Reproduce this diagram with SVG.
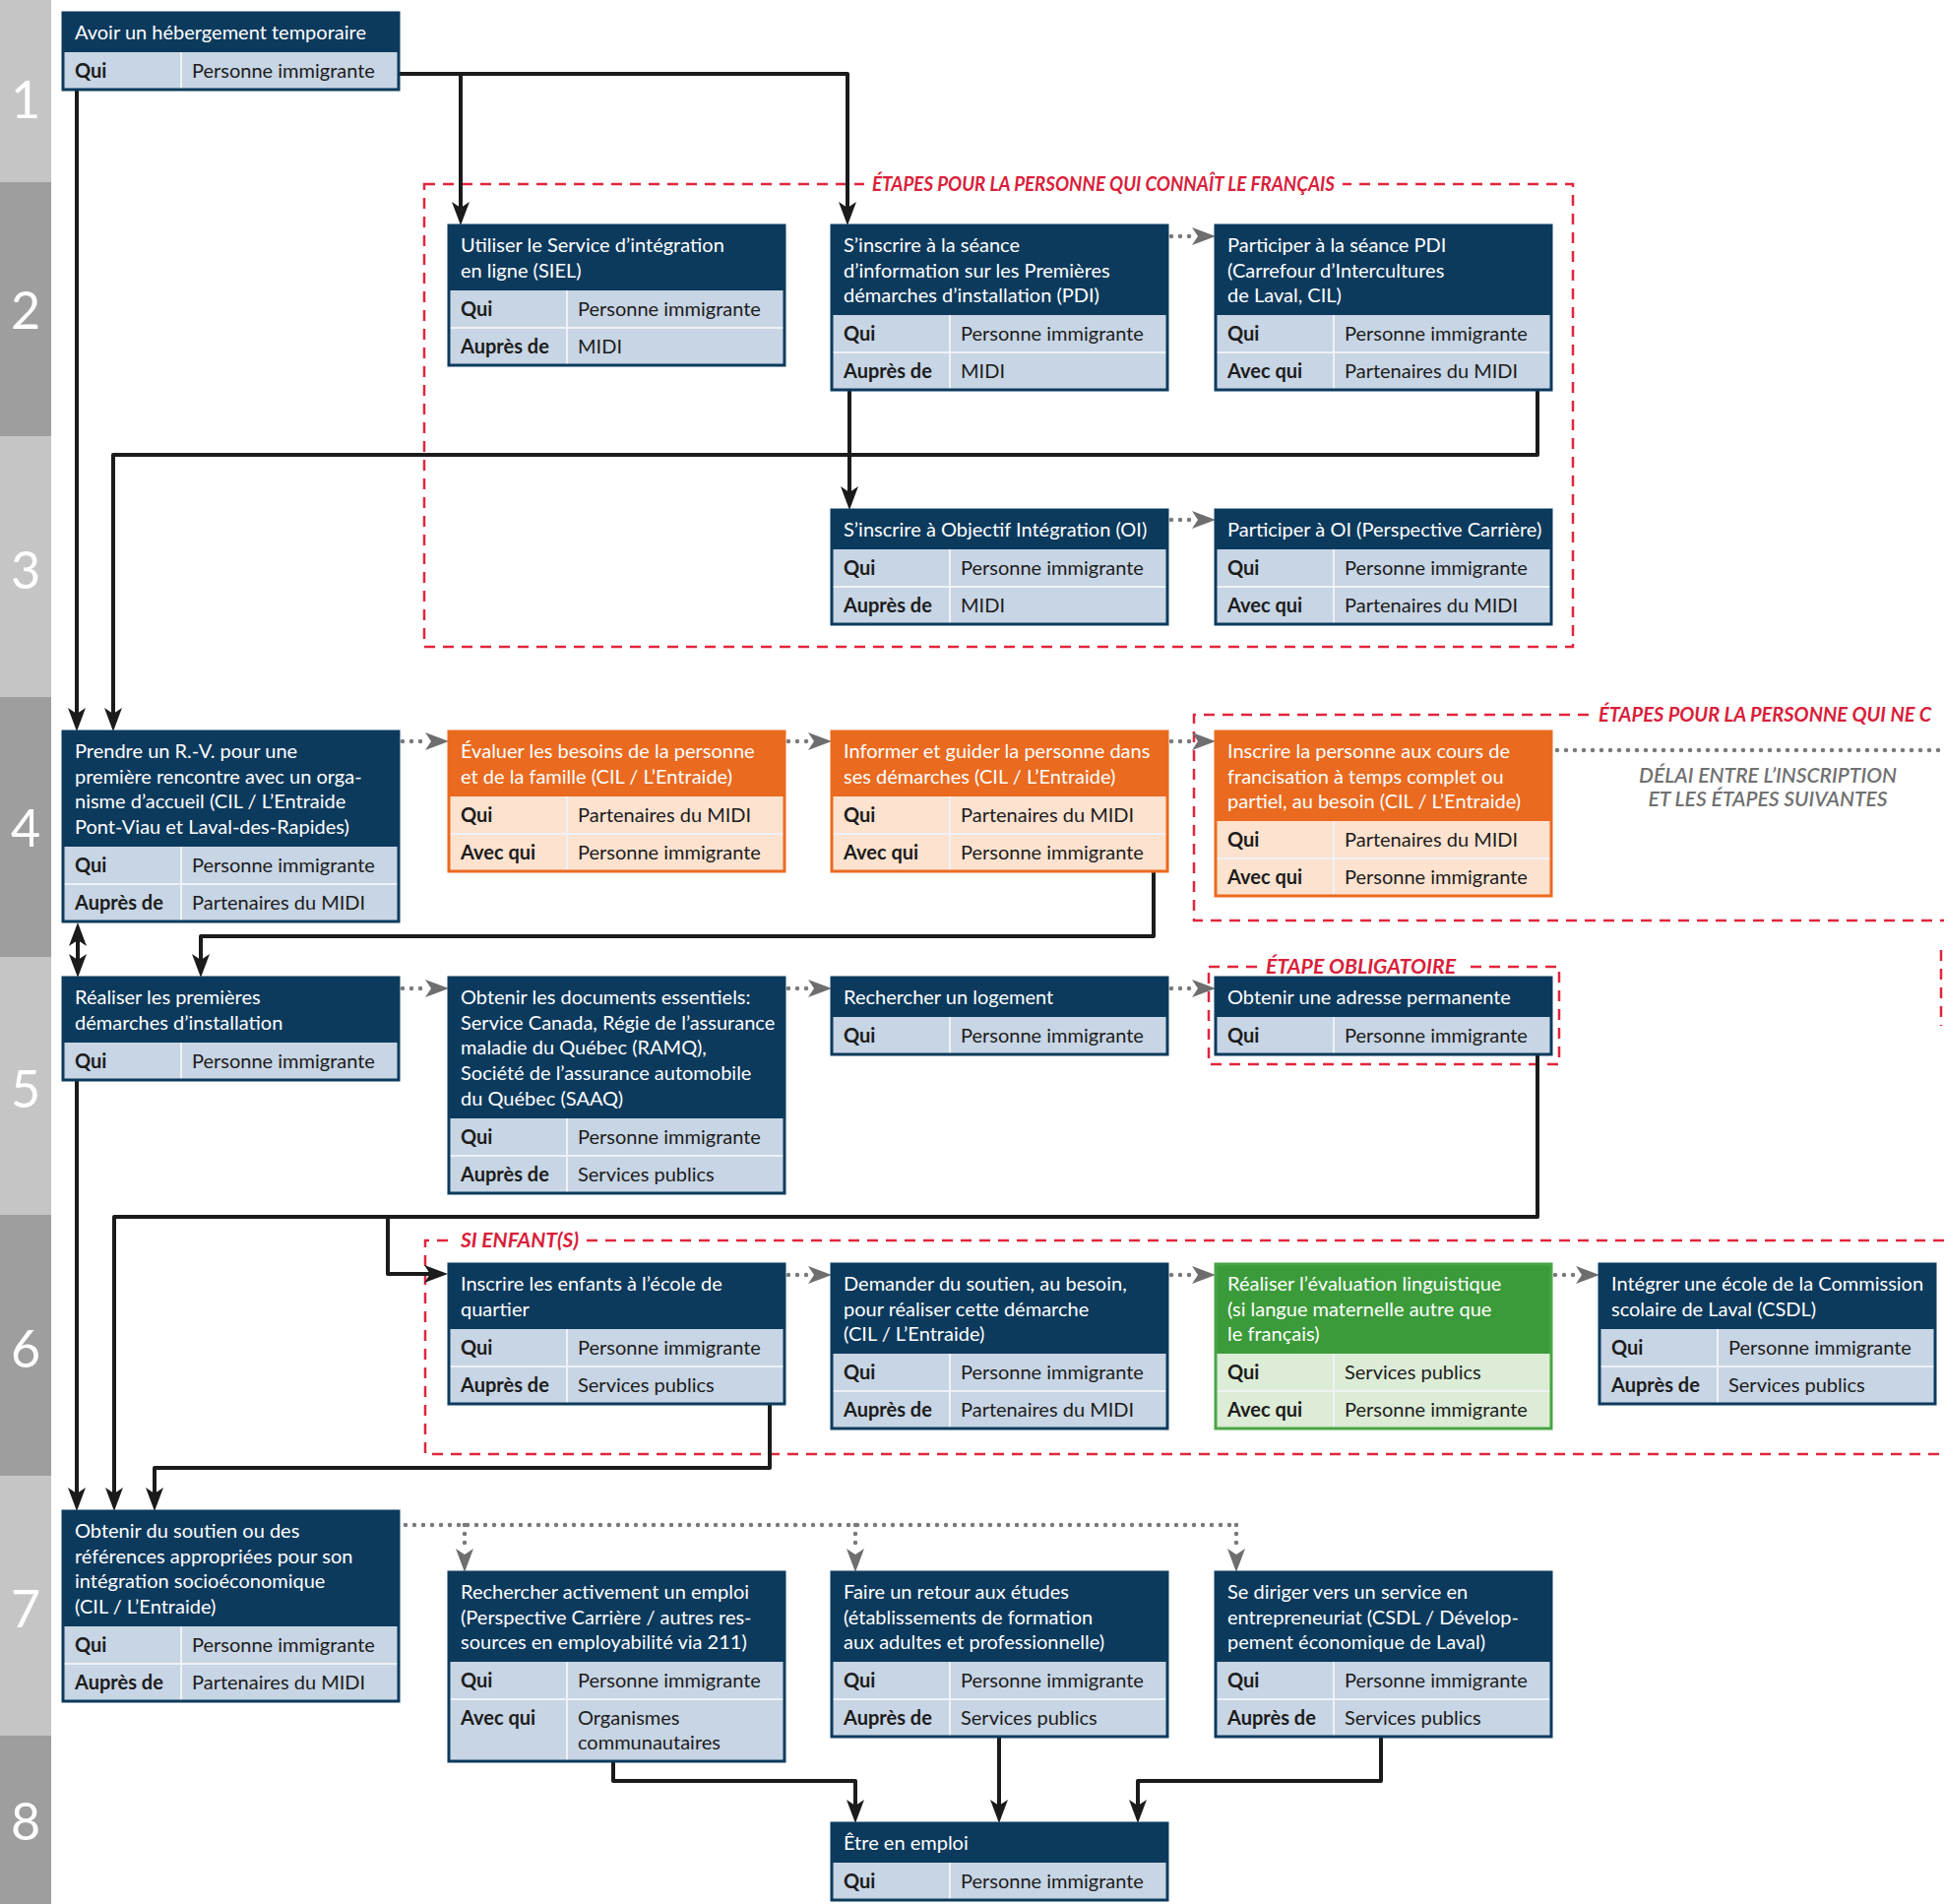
<svg xmlns="http://www.w3.org/2000/svg" width="1975" height="1934" viewBox="0 0 1975 1934">
<style>
text{font-family:Lato,"Liberation Sans",sans-serif;font-size:20px}
.band-l{fill:#c5c5c5}.band-d{fill:#9e9e9e}
.num{font-size:52px;fill:#fff;text-anchor:middle}
.bd{fill:#c7d5e4}.hd{fill:#0c3a5d}.ol{fill:none;stroke:#0c3a5d;stroke-width:3}
.sep{stroke:#eef2f6;stroke-width:2;fill:none}
.o .bd{fill:#fde2cf}.o .hd{fill:#ea6a1f}.o .ol{stroke:#ea6a1f}
.g .bd{fill:#dcecd6}.g .hd{fill:#3b9b3a}.g .ol{stroke:#49a545}
.h{fill:#fff}.k{fill:#1c1c1c;font-weight:bold}.v{fill:#1c1c1c}
.red{fill:none;stroke:#e1263c;stroke-width:2.5;stroke-dasharray:11 8}
.rl{fill:#d9203a;font-weight:bold;font-style:italic}
.blk{fill:none;stroke:#1b1b1b;stroke-width:4;stroke-linejoin:round}
.dot{fill:none;stroke:#7a7a7a;stroke-width:4.5;stroke-linecap:round;stroke-dasharray:0 9}
.note{fill:#707070;font-style:italic;font-weight:600;font-size:21px;text-anchor:middle}
</style>
<defs>
<marker id="ah" viewBox="0 0 24 20" markerWidth="24" markerHeight="20" markerUnits="userSpaceOnUse" refX="14" refY="10" orient="auto-start-reverse"><path d="M0,1 L24,10 L0,19 L6,10 Z" fill="#1b1b1b"/></marker>
<marker id="ag" viewBox="0 0 24 18" markerWidth="24" markerHeight="18" markerUnits="userSpaceOnUse" refX="0" refY="9" orient="auto"><path d="M0,0 L24,9 L0,18 L6,9 Z" fill="#6e6e6e"/></marker>
</defs>
<rect width="1975" height="1934" fill="#fff"/>
<g id="bands">
<rect class="band-l" x="0" y="0" width="52" height="185"/>
<rect class="band-d" x="0" y="185" width="52" height="258"/>
<rect class="band-l" x="0" y="443" width="52" height="265"/>
<rect class="band-d" x="0" y="708" width="52" height="264"/>
<rect class="band-l" x="0" y="972" width="52" height="262"/>
<rect class="band-d" x="0" y="1234" width="52" height="265"/>
<rect class="band-l" x="0" y="1499" width="52" height="264"/>
<rect class="band-d" x="0" y="1763" width="52" height="171"/>
<text class="num" x="26" y="120">1</text>
<text class="num" x="26" y="334">2</text>
<text class="num" x="26" y="598">3</text>
<text class="num" x="26" y="860">4</text>
<text class="num" x="26" y="1125">5</text>
<text class="num" x="26" y="1389">6</text>
<text class="num" x="26" y="1653">7</text>
<text class="num" x="26" y="1869">8</text>
</g>
<g id="groups">
<rect class="red" x="431" y="187" width="1167" height="470"/>
<rect x="878" y="176" width="486" height="22" fill="#fff"/>
<text class="rl" x="886" y="194" font-size="18" textLength="470" lengthAdjust="spacingAndGlyphs">ÉTAPES POUR LA PERSONNE QUI CONNAÎT LE FRANÇAIS</text>
<path class="red" d="M1975,726 H1213 V935 H1975"/>
<rect x="1614" y="714" width="361" height="24" fill="#fff"/>
<text class="rl" x="1624" y="733" font-size="19">ÉTAPES POUR LA PERSONNE QUI NE C</text>
<text class="note" x="1796" y="795">DÉLAI ENTRE L’INSCRIPTION</text>
<text class="note" x="1796" y="819">ET LES ÉTAPES SUIVANTES</text>
<path class="red" d="M1972,965 V1042"/>
<rect class="red" x="1228" y="982" width="356" height="99"/>
<rect x="1278" y="970" width="209" height="24" fill="#fff"/>
<text class="rl" x="1286" y="989" textLength="193" lengthAdjust="spacingAndGlyphs">ÉTAPE OBLIGATOIRE</text>
<path class="red" d="M1975,1260 H432 V1477 H1975"/>
<rect x="460" y="1248" width="136" height="24" fill="#fff"/>
<text class="rl" x="468" y="1267" textLength="120" lengthAdjust="spacingAndGlyphs">SI ENFANT(S)</text>
</g>
<g id="connectors">
<path class="blk" marker-end="url(#ah)" d="M405,75 H861 V219"/>
<path class="blk" marker-end="url(#ah)" d="M468,75 V219"/>
<path class="blk" marker-end="url(#ah)" d="M78,91 V733"/>
<path class="blk" marker-end="url(#ah)" d="M1562,396 V462 H115 V733"/>
<path class="blk" marker-end="url(#ah)" d="M863,396 V508"/>
<path class="blk" marker-end="url(#ah)" d="M1172,885 V951 H204 V983"/>
<path class="blk" marker-start="url(#ah)" marker-end="url(#ah)" d="M79,947 V983"/>
<path class="blk" marker-end="url(#ah)" d="M78,1097 V1525"/>
<path class="blk" marker-end="url(#ah)" d="M1562,1071 V1236 H116 V1525"/>
<path class="blk" marker-end="url(#ah)" d="M394,1236 V1294 H445"/>
<path class="blk" marker-end="url(#ah)" d="M782,1426 V1491 H157 V1525"/>
<path class="blk" marker-end="url(#ah)" d="M623,1789 V1809 H869 V1842"/>
<path class="blk" marker-end="url(#ah)" d="M1015,1764 V1842"/>
<path class="blk" marker-end="url(#ah)" d="M1403,1764 V1809 H1156 V1842"/>
<path class="dot" marker-end="url(#ag)" d="M1190,240 H1211"/>
<path class="dot" marker-end="url(#ag)" d="M1190,528 H1211"/>
<path class="dot" marker-end="url(#ag)" d="M409,753 H432"/>
<path class="dot" marker-end="url(#ag)" d="M801,753 H821"/>
<path class="dot" marker-end="url(#ag)" d="M1190,753 H1211"/>
<path class="dot" marker-end="url(#ag)" d="M409,1004 H432"/>
<path class="dot" marker-end="url(#ag)" d="M801,1004 H821"/>
<path class="dot" marker-end="url(#ag)" d="M1190,1004 H1211"/>
<path class="dot" marker-end="url(#ag)" d="M801,1295 H821"/>
<path class="dot" marker-end="url(#ag)" d="M1190,1295 H1211"/>
<path class="dot" marker-end="url(#ag)" d="M1580,1295 H1601"/>
<path class="dot" d="M1582,762 H1975"/>
<path class="dot" d="M412,1549 H1256"/>
<path class="dot" marker-end="url(#ag)" d="M472,1549 V1573"/>
<path class="dot" marker-end="url(#ag)" d="M869,1549 V1573"/>
<path class="dot" marker-end="url(#ag)" d="M1256,1549 V1573"/>
</g>
<g id="n-a"><rect class="bd" x="64" y="13" width="341" height="78"/><rect class="hd" x="64" y="13" width="341" height="40"/><path class="sep" d="M184,53 V91"/><rect class="ol" x="64" y="13" width="341" height="78"/>
<text class="h" x="76" y="40">Avoir un hébergement temporaire</text>
<text class="k" x="76" y="79">Qui</text><text class="v" x="195" y="79">Personne immigrante</text></g>

<g id="n-b"><rect class="bd" x="456" y="229" width="341" height="142"/><rect class="hd" x="456" y="229" width="341" height="66"/><path class="sep" d="M456,333 H797 M576,295 V371"/><rect class="ol" x="456" y="229" width="341" height="142"/>
<text class="h" x="468" y="256">Utiliser le Service d’intégration</text><text class="h" x="468" y="282">en ligne (SIEL)</text>
<text class="k" x="468" y="321">Qui</text><text class="v" x="587" y="321">Personne immigrante</text>
<text class="k" x="468" y="359">Auprès de</text><text class="v" x="587" y="359">MIDI</text></g>

<g id="n-c"><rect class="bd" x="845" y="229" width="341" height="167"/><rect class="hd" x="845" y="229" width="341" height="91"/><path class="sep" d="M845,358 H1186 M965,320 V396"/><rect class="ol" x="845" y="229" width="341" height="167"/>
<text class="h" x="857" y="256">S’inscrire à la séance</text><text class="h" x="857" y="282">d’information sur les Premières</text><text class="h" x="857" y="307">démarches d’installation (PDI)</text>
<text class="k" x="857" y="346">Qui</text><text class="v" x="976" y="346">Personne immigrante</text>
<text class="k" x="857" y="384">Auprès de</text><text class="v" x="976" y="384">MIDI</text></g>

<g id="n-d"><rect class="bd" x="1235" y="229" width="341" height="167"/><rect class="hd" x="1235" y="229" width="341" height="91"/><path class="sep" d="M1235,358 H1576 M1355,320 V396"/><rect class="ol" x="1235" y="229" width="341" height="167"/>
<text class="h" x="1247" y="256">Participer à la séance PDI</text><text class="h" x="1247" y="282">(Carrefour d’Intercultures</text><text class="h" x="1247" y="307">de Laval, CIL)</text>
<text class="k" x="1247" y="346">Qui</text><text class="v" x="1366" y="346">Personne immigrante</text>
<text class="k" x="1247" y="384">Avec qui</text><text class="v" x="1366" y="384">Partenaires du MIDI</text></g>

<g id="n-e"><rect class="bd" x="845" y="518" width="341" height="116"/><rect class="hd" x="845" y="518" width="341" height="40"/><path class="sep" d="M845,596 H1186 M965,558 V634"/><rect class="ol" x="845" y="518" width="341" height="116"/>
<text class="h" x="857" y="545">S’inscrire à Objectif Intégration (OI)</text>
<text class="k" x="857" y="584">Qui</text><text class="v" x="976" y="584">Personne immigrante</text>
<text class="k" x="857" y="622">Auprès de</text><text class="v" x="976" y="622">MIDI</text></g>

<g id="n-f"><rect class="bd" x="1235" y="518" width="341" height="116"/><rect class="hd" x="1235" y="518" width="341" height="40"/><path class="sep" d="M1235,596 H1576 M1355,558 V634"/><rect class="ol" x="1235" y="518" width="341" height="116"/>
<text class="h" x="1247" y="545">Participer à OI (Perspective Carrière)</text>
<text class="k" x="1247" y="584">Qui</text><text class="v" x="1366" y="584">Personne immigrante</text>
<text class="k" x="1247" y="622">Avec qui</text><text class="v" x="1366" y="622">Partenaires du MIDI</text></g>

<g id="n-g"><rect class="bd" x="64" y="743" width="341" height="193"/><rect class="hd" x="64" y="743" width="341" height="117"/><path class="sep" d="M64,898 H405 M184,860 V936"/><rect class="ol" x="64" y="743" width="341" height="193"/>
<text class="h" x="76" y="770">Prendre un R.-V. pour une</text><text class="h" x="76" y="796">première rencontre avec un orga-</text><text class="h" x="76" y="821">nisme d’accueil (CIL / L’Entraide</text><text class="h" x="76" y="847">Pont-Viau et Laval-des-Rapides)</text>
<text class="k" x="76" y="886">Qui</text><text class="v" x="195" y="886">Personne immigrante</text>
<text class="k" x="76" y="924">Auprès de</text><text class="v" x="195" y="924">Partenaires du MIDI</text></g>

<g id="n-h" class="o"><rect class="bd" x="456" y="743" width="341" height="142"/><rect class="hd" x="456" y="743" width="341" height="66"/><path class="sep" d="M456,847 H797 M576,809 V885"/><rect class="ol" x="456" y="743" width="341" height="142"/>
<text class="h" x="468" y="770">Évaluer les besoins de la personne</text><text class="h" x="468" y="796">et de la famille (CIL / L’Entraide)</text>
<text class="k" x="468" y="835">Qui</text><text class="v" x="587" y="835">Partenaires du MIDI</text>
<text class="k" x="468" y="873">Avec qui</text><text class="v" x="587" y="873">Personne immigrante</text></g>

<g id="n-i" class="o"><rect class="bd" x="845" y="743" width="341" height="142"/><rect class="hd" x="845" y="743" width="341" height="66"/><path class="sep" d="M845,847 H1186 M965,809 V885"/><rect class="ol" x="845" y="743" width="341" height="142"/>
<text class="h" x="857" y="770">Informer et guider la personne dans</text><text class="h" x="857" y="796">ses démarches (CIL / L’Entraide)</text>
<text class="k" x="857" y="835">Qui</text><text class="v" x="976" y="835">Partenaires du MIDI</text>
<text class="k" x="857" y="873">Avec qui</text><text class="v" x="976" y="873">Personne immigrante</text></g>

<g id="n-j" class="o"><rect class="bd" x="1235" y="743" width="341" height="167"/><rect class="hd" x="1235" y="743" width="341" height="91"/><path class="sep" d="M1235,872 H1576 M1355,834 V910"/><rect class="ol" x="1235" y="743" width="341" height="167"/>
<text class="h" x="1247" y="770">Inscrire la personne aux cours de</text><text class="h" x="1247" y="796">francisation à temps complet ou</text><text class="h" x="1247" y="821">partiel, au besoin (CIL / L’Entraide)</text>
<text class="k" x="1247" y="860">Qui</text><text class="v" x="1366" y="860">Partenaires du MIDI</text>
<text class="k" x="1247" y="898">Avec qui</text><text class="v" x="1366" y="898">Personne immigrante</text></g>

<g id="n-k"><rect class="bd" x="64" y="993" width="341" height="104"/><rect class="hd" x="64" y="993" width="341" height="66"/><path class="sep" d="M184,1059 V1097"/><rect class="ol" x="64" y="993" width="341" height="104"/>
<text class="h" x="76" y="1020">Réaliser les premières</text><text class="h" x="76" y="1046">démarches d’installation</text>
<text class="k" x="76" y="1085">Qui</text><text class="v" x="195" y="1085">Personne immigrante</text></g>

<g id="n-l"><rect class="bd" x="456" y="993" width="341" height="219"/><rect class="hd" x="456" y="993" width="341" height="143"/><path class="sep" d="M456,1174 H797 M576,1136 V1212"/><rect class="ol" x="456" y="993" width="341" height="219"/>
<text class="h" x="468" y="1020">Obtenir les documents essentiels:</text><text class="h" x="468" y="1046">Service Canada, Régie de l’assurance</text><text class="h" x="468" y="1071">maladie du Québec (RAMQ),</text><text class="h" x="468" y="1097">Société de l’assurance automobile</text><text class="h" x="468" y="1123">du Québec (SAAQ)</text>
<text class="k" x="468" y="1162">Qui</text><text class="v" x="587" y="1162">Personne immigrante</text>
<text class="k" x="468" y="1200">Auprès de</text><text class="v" x="587" y="1200">Services publics</text></g>

<g id="n-m"><rect class="bd" x="845" y="993" width="341" height="78"/><rect class="hd" x="845" y="993" width="341" height="40"/><path class="sep" d="M965,1033 V1071"/><rect class="ol" x="845" y="993" width="341" height="78"/>
<text class="h" x="857" y="1020">Rechercher un logement</text>
<text class="k" x="857" y="1059">Qui</text><text class="v" x="976" y="1059">Personne immigrante</text></g>

<g id="n-n"><rect class="bd" x="1235" y="993" width="341" height="78"/><rect class="hd" x="1235" y="993" width="341" height="40"/><path class="sep" d="M1355,1033 V1071"/><rect class="ol" x="1235" y="993" width="341" height="78"/>
<text class="h" x="1247" y="1020">Obtenir une adresse permanente</text>
<text class="k" x="1247" y="1059">Qui</text><text class="v" x="1366" y="1059">Personne immigrante</text></g>

<g id="n-o"><rect class="bd" x="456" y="1284" width="341" height="142"/><rect class="hd" x="456" y="1284" width="341" height="66"/><path class="sep" d="M456,1388 H797 M576,1350 V1426"/><rect class="ol" x="456" y="1284" width="341" height="142"/>
<text class="h" x="468" y="1311">Inscrire les enfants à l’école de</text><text class="h" x="468" y="1337">quartier</text>
<text class="k" x="468" y="1376">Qui</text><text class="v" x="587" y="1376">Personne immigrante</text>
<text class="k" x="468" y="1414">Auprès de</text><text class="v" x="587" y="1414">Services publics</text></g>

<g id="n-p"><rect class="bd" x="845" y="1284" width="341" height="167"/><rect class="hd" x="845" y="1284" width="341" height="91"/><path class="sep" d="M845,1413 H1186 M965,1375 V1451"/><rect class="ol" x="845" y="1284" width="341" height="167"/>
<text class="h" x="857" y="1311">Demander du soutien, au besoin,</text><text class="h" x="857" y="1337">pour réaliser cette démarche</text><text class="h" x="857" y="1362">(CIL / L’Entraide)</text>
<text class="k" x="857" y="1401">Qui</text><text class="v" x="976" y="1401">Personne immigrante</text>
<text class="k" x="857" y="1439">Auprès de</text><text class="v" x="976" y="1439">Partenaires du MIDI</text></g>

<g id="n-q" class="g"><rect class="bd" x="1235" y="1284" width="341" height="167"/><rect class="hd" x="1235" y="1284" width="341" height="91"/><path class="sep" d="M1235,1413 H1576 M1355,1375 V1451"/><rect class="ol" x="1235" y="1284" width="341" height="167"/>
<text class="h" x="1247" y="1311">Réaliser l’évaluation linguistique</text><text class="h" x="1247" y="1337">(si langue maternelle autre que</text><text class="h" x="1247" y="1362">le français)</text>
<text class="k" x="1247" y="1401">Qui</text><text class="v" x="1366" y="1401">Services publics</text>
<text class="k" x="1247" y="1439">Avec qui</text><text class="v" x="1366" y="1439">Personne immigrante</text></g>

<g id="n-r"><rect class="bd" x="1625" y="1284" width="341" height="142"/><rect class="hd" x="1625" y="1284" width="341" height="66"/><path class="sep" d="M1625,1388 H1966 M1745,1350 V1426"/><rect class="ol" x="1625" y="1284" width="341" height="142"/>
<text class="h" x="1637" y="1311">Intégrer une école de la Commission</text><text class="h" x="1637" y="1337">scolaire de Laval (CSDL)</text>
<text class="k" x="1637" y="1376">Qui</text><text class="v" x="1756" y="1376">Personne immigrante</text>
<text class="k" x="1637" y="1414">Auprès de</text><text class="v" x="1756" y="1414">Services publics</text></g>

<g id="n-s"><rect class="bd" x="64" y="1535" width="341" height="193"/><rect class="hd" x="64" y="1535" width="341" height="117"/><path class="sep" d="M64,1690 H405 M184,1652 V1728"/><rect class="ol" x="64" y="1535" width="341" height="193"/>
<text class="h" x="76" y="1562">Obtenir du soutien ou des</text><text class="h" x="76" y="1588">références appropriées pour son</text><text class="h" x="76" y="1613">intégration socioéconomique</text><text class="h" x="76" y="1639">(CIL / L’Entraide)</text>
<text class="k" x="76" y="1678">Qui</text><text class="v" x="195" y="1678">Personne immigrante</text>
<text class="k" x="76" y="1716">Auprès de</text><text class="v" x="195" y="1716">Partenaires du MIDI</text></g>

<g id="n-t"><rect class="bd" x="456" y="1597" width="341" height="192"/><rect class="hd" x="456" y="1597" width="341" height="91"/><path class="sep" d="M456,1726 H797 M576,1688 V1789"/><rect class="ol" x="456" y="1597" width="341" height="192"/>
<text class="h" x="468" y="1624">Rechercher activement un emploi</text><text class="h" x="468" y="1650">(Perspective Carrière / autres res-</text><text class="h" x="468" y="1675">sources en employabilité via 211)</text>
<text class="k" x="468" y="1714">Qui</text><text class="v" x="587" y="1714">Personne immigrante</text>
<text class="k" x="468" y="1752">Avec qui</text><text class="v" x="587" y="1752">Organismes</text><text class="v" x="587" y="1777">communautaires</text></g>

<g id="n-u"><rect class="bd" x="845" y="1597" width="341" height="167"/><rect class="hd" x="845" y="1597" width="341" height="91"/><path class="sep" d="M845,1726 H1186 M965,1688 V1764"/><rect class="ol" x="845" y="1597" width="341" height="167"/>
<text class="h" x="857" y="1624">Faire un retour aux études</text><text class="h" x="857" y="1650">(établissements de formation</text><text class="h" x="857" y="1675">aux adultes et professionnelle)</text>
<text class="k" x="857" y="1714">Qui</text><text class="v" x="976" y="1714">Personne immigrante</text>
<text class="k" x="857" y="1752">Auprès de</text><text class="v" x="976" y="1752">Services publics</text></g>

<g id="n-v"><rect class="bd" x="1235" y="1597" width="341" height="167"/><rect class="hd" x="1235" y="1597" width="341" height="91"/><path class="sep" d="M1235,1726 H1576 M1355,1688 V1764"/><rect class="ol" x="1235" y="1597" width="341" height="167"/>
<text class="h" x="1247" y="1624">Se diriger vers un service en</text><text class="h" x="1247" y="1650">entrepreneuriat (CSDL / Dévelop-</text><text class="h" x="1247" y="1675">pement économique de Laval)</text>
<text class="k" x="1247" y="1714">Qui</text><text class="v" x="1366" y="1714">Personne immigrante</text>
<text class="k" x="1247" y="1752">Auprès de</text><text class="v" x="1366" y="1752">Services publics</text></g>

<g id="n-w"><rect class="bd" x="845" y="1852" width="341" height="78"/><rect class="hd" x="845" y="1852" width="341" height="40"/><path class="sep" d="M965,1892 V1930"/><rect class="ol" x="845" y="1852" width="341" height="78"/>
<text class="h" x="857" y="1879">Être en emploi</text>
<text class="k" x="857" y="1918">Qui</text><text class="v" x="976" y="1918">Personne immigrante</text></g>
</svg>
